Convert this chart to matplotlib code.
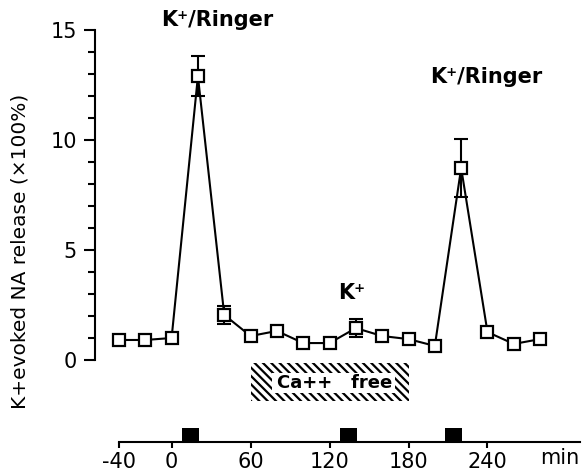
import numpy as np
import matplotlib
matplotlib.use("Agg")
import matplotlib.pyplot as plt
from matplotlib.patches import Rectangle
from matplotlib.ticker import FixedLocator

plt.rcParams['font.family'] = ['DejaVu Sans']

# time of each sample (min) and K+-evoked NA release (x100%)
time = [-40, -20, 0, 20, 40, 60, 80, 100, 120, 140, 160, 180, 200, 220, 240, 260, 280]
release = [0.91, 0.91, 1.0, 12.9, 2.05, 1.09, 1.32, 0.77, 0.77, 1.45, 1.09, 0.95, 0.64, 8.73, 1.27, 0.73, 0.95]
err = [0, 0, 0, 0.9, 0.4, 0, 0.05, 0, 0, 0.4, 0, 0, 0, 1.3, 0.2, 0, 0.15]

# K+ stimulation periods (start, duration in min)
stim_start = [8, 128, 208]
stim_len = [13, 13, 13]

# Ca-free period
ca_free = (60, 180)

time_ticks = [-40, 0, 60, 120, 180, 240]

W, H = 582, 475
fig = plt.figure(figsize=(W / 100, H / 100), dpi=100)

xlim = (-58.2, 310.3)

# main plot
ax = fig.add_axes([95 / W, 60 / H, 485 / W, 396 / H])
ax.set_xlim(*xlim)
ax.set_ylim(-2.5, 15.5)
for s in ['top', 'right', 'bottom']:
    ax.spines[s].set_visible(False)
ax.spines['left'].set_bounds(0, 15)
ax.spines['left'].set_linewidth(1.5)
ax.set_xticks([])
ax.set_yticks([0, 5, 10, 15])
ax.yaxis.set_minor_locator(FixedLocator([v for v in range(16) if v % 5]))
ax.tick_params(axis='y', which='major', length=8, width=1.5, labelsize=15, pad=5)
ax.tick_params(axis='y', which='minor', length=5, width=1.5)
ax.patch.set_visible(False)

t_err = [t for t, e in zip(time, err) if e > 0]
r_err = [r for r, e in zip(release, err) if e > 0]
e_err = [e for e in err if e > 0]
ax.errorbar(t_err, r_err, yerr=e_err, fmt='none', ecolor='black', capsize=5,
            elinewidth=1.5, capthick=1.5, zorder=2)
ax.plot(time, release, color='black', lw=1.5, marker='s', markersize=8,
        markerfacecolor='white', markeredgecolor='black',
        markeredgewidth=1.6, zorder=3)

# Ca++ free box
plt.rcParams['hatch.linewidth'] = 1.6
box = Rectangle((ca_free[0], -1.85), ca_free[1] - ca_free[0], 1.7,
                facecolor='white', edgecolor='black', linewidth=0,
                hatch='\\\\\\\\', zorder=2)
ax.add_patch(box)
ax.add_patch(Rectangle((76, -1.5), 94, 0.92, facecolor='white',
                       edgecolor='none', zorder=2.5))
ax.text(123.5, -1.05, 'Ca++   free', ha='center', va='center',
        fontsize=13, fontweight='bold', zorder=3)

ax.text(35, 15.45, 'K⁺/Ringer', ha='center', va='center', fontsize=15,
        fontweight='bold')
ax.text(239, 12.85, 'K⁺/Ringer', ha='center', va='center', fontsize=15,
        fontweight='bold')
ax.text(137, 3.05, 'K⁺', ha='center', va='center', fontsize=15,
        fontweight='bold')

fig.text(20 / W, 1 - 251 / H, 'K+evoked NA release (×100%)', rotation=90,
         ha='center', va='center', fontsize=14.5)

# timeline with stimulation marks
tax = fig.add_axes([95 / W, 33 / H, 485 / W, 16 / H])
tax.set_xlim(*xlim)
tax.set_ylim(0, 1)
for s in ['top', 'right', 'left']:
    tax.spines[s].set_visible(False)
tax.spines['bottom'].set_bounds(-40, xlim[1])
tax.spines['bottom'].set_linewidth(1.5)
tax.set_yticks([])
tax.set_xticks(time_ticks)
tax.set_xticklabels([str(t) for t in time_ticks])
tax.tick_params(axis='x', length=4, width=1.5, labelsize=15, pad=3)
tax.bar(stim_start, 0.875, width=stim_len, align='edge', color='black')
tax.text(295, -0.4, 'min', ha='center', va='top', fontsize=15,
         transform=tax.get_xaxis_transform())
tax.patch.set_visible(False)

fig.savefig('out.png', dpi=100)
